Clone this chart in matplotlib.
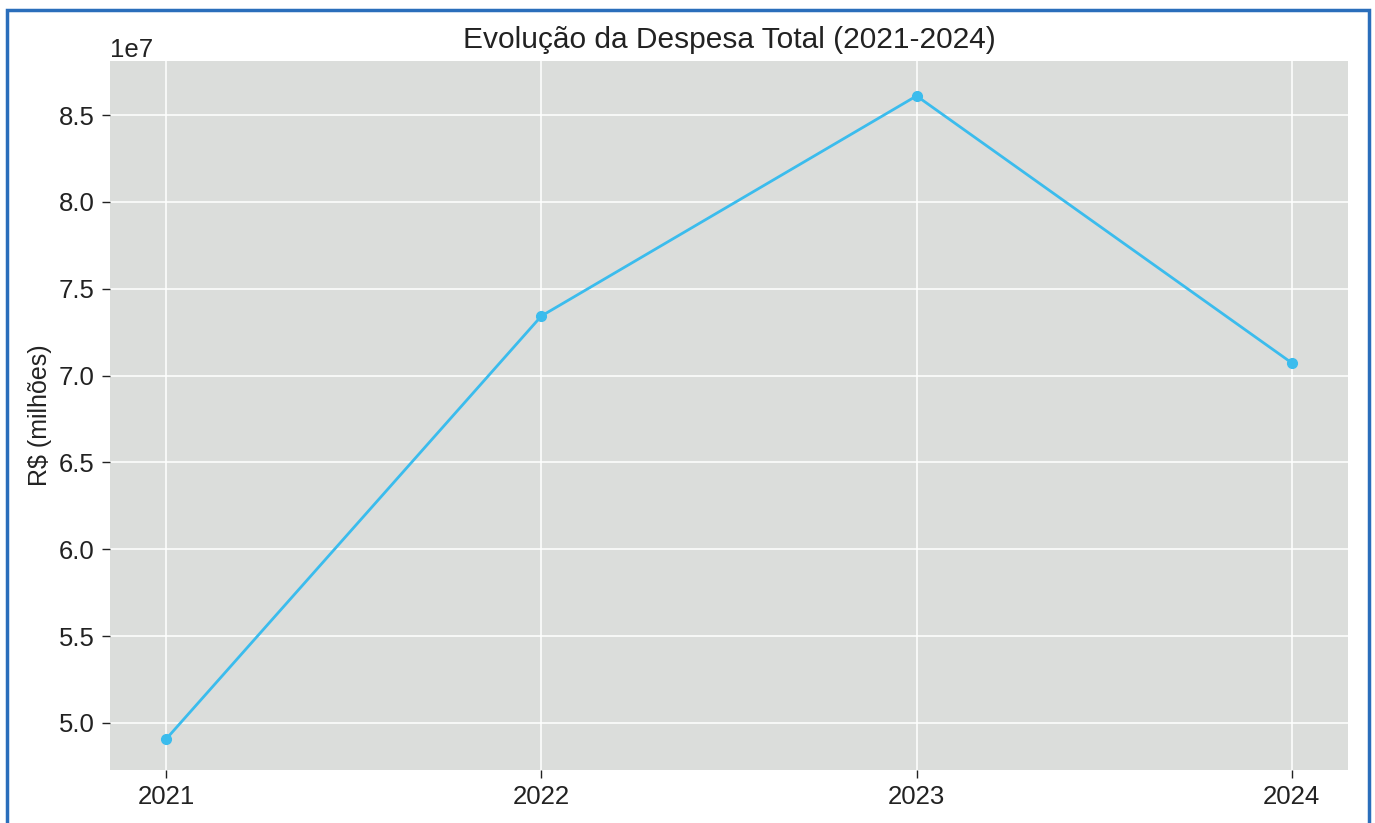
import matplotlib
matplotlib.use("Agg")
import matplotlib.pyplot as plt
from matplotlib.patches import Rectangle

anos = [2021, 2022, 2023, 2024]
despesa_total = [4.908e7, 7.343e7, 8.610e7, 7.073e7]

plt.rcParams['font.family'] = ['Liberation Sans', 'DejaVu Sans']

fig = plt.figure(figsize=(13.75, 8.23), dpi=100)
ax = fig.add_axes([110 / 1375, 1 - 770 / 823, 1238 / 1375, 709 / 823])

ax.set_facecolor('#dbdddb')
ax.plot(anos, despesa_total, marker='o', markersize=7, linewidth=2, color='#3bbced')
ax.grid(True, color='white', linewidth=1.1)
ax.set_axisbelow(True)
for s in ax.spines.values():
    s.set_visible(False)

ax.set_xticks(anos)
ax.set_ylim(4.729e7, 8.811e7)
ax.tick_params(labelsize=18.5, colors='#222222', length=6, width=1, pad=5)
ax.yaxis.get_offset_text().set_fontsize(18.5)
ax.set_ylabel('R$ (milhões)', fontsize=18, color='#222222', labelpad=5)
ax.set_title('Evolução da Despesa Total (2021-2024)', fontsize=21.5, color='#222222', pad=9)

# moldura azul da figura
borda = Rectangle((7 / 1375, -0.2), (1369 - 7) / 1375, 1.2 - 10 / 823,
                  transform=fig.transFigure, fill=False, edgecolor='#2a6ebb',
                  linewidth=2.5, clip_on=False)
fig.patches.append(borda)

fig.savefig('out.png', dpi=100)
